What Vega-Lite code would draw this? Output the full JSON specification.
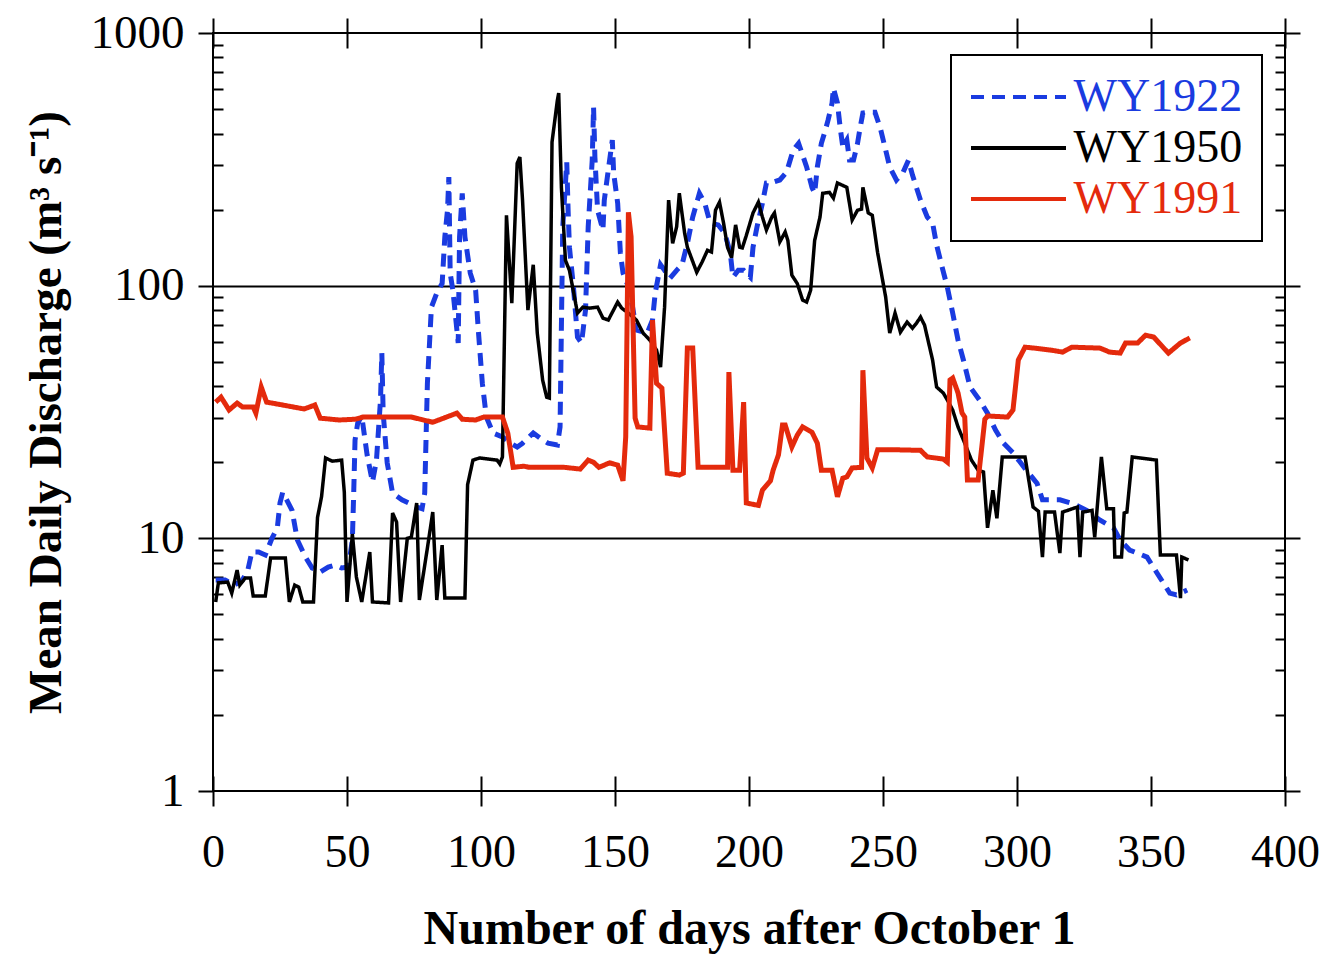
{
  "$schema": "https://vega.github.io/schema/vega-lite/v6.json",
  "width": 1072,
  "height": 758,
  "autosize": "none",
  "padding": {"left": 213, "top": 33, "right": 50, "bottom": 165},
  "background": "white",
  "config": {
    "view": {"stroke": "black", "strokeWidth": 2},
    "font": "Liberation Serif",
    "legend": {
      "orient": "none",
      "legendX": 738,
      "legendY": 22,
      "fillColor": "white",
      "strokeColor": "black",
      "strokeWidth": 2,
      "padding": 19,
      "symbolType": "M-4,0H4",
      "symbolSize": 564,
      "symbolStrokeWidth": 4,
      "symbolOffset": 25.5,
      "labelFont": "Liberation Serif",
      "labelFontSize": 46,
      "labelLimit": 0,
      "labelOffset": 32,
      "rowPadding": 5
    }
  },
  "data": {"values": [
    {"s":"WY1922","d":1,"q":6.84},{"s":"WY1922","d":4.5,"q":6.84},{"s":"WY1922","d":8,"q":6.53},{"s":"WY1922","d":11,"q":6.84},{"s":"WY1922","d":13,"q":7.49},{"s":"WY1922","d":14.5,"q":8.83},{"s":"WY1922","d":17,"q":8.83},{"s":"WY1922","d":19.5,"q":8.59},{"s":"WY1922","d":22,"q":10.0},{"s":"WY1922","d":24,"q":11.0},{"s":"WY1922","d":25,"q":13.8},{"s":"WY1922","d":26,"q":15.2},{"s":"WY1922","d":27.5,"q":14.2},{"s":"WY1922","d":29.5,"q":12.9},{"s":"WY1922","d":31.5,"q":9.84},{"s":"WY1922","d":34.5,"q":8.43},{"s":"WY1922","d":37,"q":7.63},{"s":"WY1922","d":40,"q":7.36},{"s":"WY1922","d":43,"q":7.70},{"s":"WY1922","d":45.5,"q":7.84},{"s":"WY1922","d":48,"q":7.63},{"s":"WY1922","d":50.5,"q":7.70},{"s":"WY1922","d":52,"q":9.84},{"s":"WY1922","d":52.5,"q":15.1},{"s":"WY1922","d":53,"q":24.5},{"s":"WY1922","d":54,"q":28.6},{"s":"WY1922","d":55.5,"q":30.5},{"s":"WY1922","d":57.5,"q":21.4},{"s":"WY1922","d":59.5,"q":16.7},{"s":"WY1922","d":61,"q":20.4},{"s":"WY1922","d":62.5,"q":35.3},{"s":"WY1922","d":63,"q":54.1},{"s":"WY1922","d":63.5,"q":31.3},{"s":"WY1922","d":65,"q":19.9},{"s":"WY1922","d":67,"q":15.1},{"s":"WY1922","d":70.5,"q":14.2},{"s":"WY1922","d":73,"q":13.8},{"s":"WY1922","d":76,"q":13.3},{"s":"WY1922","d":78,"q":13.1},{"s":"WY1922","d":79,"q":15.1},{"s":"WY1922","d":80,"q":41.1},{"s":"WY1922","d":81.5,"q":82.2},{"s":"WY1922","d":83.5,"q":93.5},{"s":"WY1922","d":85.5,"q":102},{"s":"WY1922","d":86.5,"q":156},{"s":"WY1922","d":87.5,"q":199},{"s":"WY1922","d":88,"q":269},{"s":"WY1922","d":88.5,"q":112},{"s":"WY1922","d":89.5,"q":96.0},{"s":"WY1922","d":91.5,"q":59.3},{"s":"WY1922","d":92,"q":156},{"s":"WY1922","d":93,"q":232},{"s":"WY1922","d":94,"q":156},{"s":"WY1922","d":96,"q":112},{"s":"WY1922","d":98,"q":96.0},{"s":"WY1922","d":99,"q":66.7},{"s":"WY1922","d":100.5,"q":41.1},{"s":"WY1922","d":102,"q":30.2},{"s":"WY1922","d":104.5,"q":26.1},{"s":"WY1922","d":108,"q":25.2},{"s":"WY1922","d":111,"q":23.8},{"s":"WY1922","d":113.5,"q":23.0},{"s":"WY1922","d":115.5,"q":23.8},{"s":"WY1922","d":119.5,"q":26.1},{"s":"WY1922","d":123,"q":24.5},{"s":"WY1922","d":125,"q":23.8},{"s":"WY1922","d":128.5,"q":23.4},{"s":"WY1922","d":129.5,"q":27.6},{"s":"WY1922","d":130,"q":68.6},{"s":"WY1922","d":130.5,"q":171},{"s":"WY1922","d":132,"q":308},{"s":"WY1922","d":132.5,"q":199},{"s":"WY1922","d":133,"q":142},{"s":"WY1922","d":134.5,"q":98.7},{"s":"WY1922","d":136,"q":62.6},{"s":"WY1922","d":137.5,"q":59.3},{"s":"WY1922","d":139,"q":80.0},{"s":"WY1922","d":140,"q":171},{"s":"WY1922","d":141.5,"q":314},{"s":"WY1922","d":142,"q":509},{"s":"WY1922","d":142.5,"q":323},{"s":"WY1922","d":143.5,"q":199},{"s":"WY1922","d":145.5,"q":166},{"s":"WY1922","d":146,"q":218},{"s":"WY1922","d":147.5,"q":287},{"s":"WY1922","d":149,"q":377},{"s":"WY1922","d":149.5,"q":279},{"s":"WY1922","d":151,"q":212},{"s":"WY1922","d":152,"q":135},{"s":"WY1922","d":153,"q":112},{"s":"WY1922","d":155.5,"q":96.0},{"s":"WY1922","d":158,"q":66.7},{"s":"WY1922","d":162,"q":64.9},{"s":"WY1922","d":164,"q":73.1},{"s":"WY1922","d":165,"q":93.5},{"s":"WY1922","d":167,"q":121},{"s":"WY1922","d":168.5,"q":115},{"s":"WY1922","d":170.5,"q":107},{"s":"WY1922","d":173,"q":115},{"s":"WY1922","d":175,"q":121},{"s":"WY1922","d":177,"q":147},{"s":"WY1922","d":179,"q":187},{"s":"WY1922","d":181.5,"q":232},{"s":"WY1922","d":183.5,"q":212},{"s":"WY1922","d":185.5,"q":177},{"s":"WY1922","d":188.5,"q":174},{"s":"WY1922","d":191,"q":161},{"s":"WY1922","d":193,"q":135},{"s":"WY1922","d":194,"q":108},{"s":"WY1922","d":196,"q":115},{"s":"WY1922","d":198,"q":115},{"s":"WY1922","d":200.5,"q":108},{"s":"WY1922","d":201.5,"q":142},{"s":"WY1922","d":203,"q":171},{"s":"WY1922","d":205,"q":212},{"s":"WY1922","d":206.5,"q":255},{"s":"WY1922","d":209,"q":257},{"s":"WY1922","d":211.5,"q":262},{"s":"WY1922","d":214,"q":281},{"s":"WY1922","d":216.5,"q":344},{"s":"WY1922","d":218.5,"q":366},{"s":"WY1922","d":220,"q":329},{"s":"WY1922","d":221.5,"q":295},{"s":"WY1922","d":223.5,"q":245},{"s":"WY1922","d":224.5,"q":232},{"s":"WY1922","d":225.5,"q":295},{"s":"WY1922","d":227,"q":366},{"s":"WY1922","d":228.5,"q":413},{"s":"WY1922","d":229.5,"q":452},{"s":"WY1922","d":231,"q":528},{"s":"WY1922","d":231.5,"q":605},{"s":"WY1922","d":233,"q":528},{"s":"WY1922","d":234,"q":424},{"s":"WY1922","d":235,"q":354},{"s":"WY1922","d":236.5,"q":377},{"s":"WY1922","d":237.5,"q":314},{"s":"WY1922","d":239,"q":314},{"s":"WY1922","d":240.5,"q":366},{"s":"WY1922","d":241.5,"q":424},{"s":"WY1922","d":242.5,"q":482},{"s":"WY1922","d":245,"q":486},{"s":"WY1922","d":247,"q":486},{"s":"WY1922","d":249,"q":420},{"s":"WY1922","d":251,"q":344},{"s":"WY1922","d":252.5,"q":295},{"s":"WY1922","d":255,"q":262},{"s":"WY1922","d":257.5,"q":281},{"s":"WY1922","d":259.5,"q":314},{"s":"WY1922","d":261,"q":274},{"s":"WY1922","d":264,"q":218},{"s":"WY1922","d":266.5,"q":187},{"s":"WY1922","d":268.5,"q":177},{"s":"WY1922","d":270,"q":145},{"s":"WY1922","d":272,"q":119},{"s":"WY1922","d":274,"q":98.7},{"s":"WY1922","d":276,"q":77.9},{"s":"WY1922","d":278,"q":60.9},{"s":"WY1922","d":280,"q":50.8},{"s":"WY1922","d":282.5,"q":39.7},{"s":"WY1922","d":286,"q":35.3},{"s":"WY1922","d":289,"q":31.3},{"s":"WY1922","d":292,"q":26.8},{"s":"WY1922","d":295,"q":23.8},{"s":"WY1922","d":298.5,"q":21.8},{"s":"WY1922","d":303.5,"q":18.6},{"s":"WY1922","d":307.5,"q":16.5},{"s":"WY1922","d":309.5,"q":14.2},{"s":"WY1922","d":316,"q":14.2},{"s":"WY1922","d":321,"q":13.7},{"s":"WY1922","d":326,"q":12.9},{"s":"WY1922","d":331,"q":11.8},{"s":"WY1922","d":336,"q":11.0},{"s":"WY1922","d":338.5,"q":9.84},{"s":"WY1922","d":342,"q":8.99},{"s":"WY1922","d":348.5,"q":8.43},{"s":"WY1922","d":352,"q":7.36},{"s":"WY1922","d":357,"q":6.07},{"s":"WY1922","d":359.5,"q":5.97},{"s":"WY1922","d":363.5,"q":6.24},

    {"s":"WY1950","d":1,"q":5.60},{"s":"WY1950","d":2,"q":6.66},{"s":"WY1950","d":5.5,"q":6.71},{"s":"WY1950","d":7,"q":6.07},{"s":"WY1950","d":9,"q":7.49},{"s":"WY1950","d":10,"q":6.53},{"s":"WY1950","d":12,"q":6.96},{"s":"WY1950","d":14,"q":6.96},{"s":"WY1950","d":15,"q":5.91},{"s":"WY1950","d":19.5,"q":5.91},{"s":"WY1950","d":21.5,"q":8.36},{"s":"WY1950","d":27,"q":8.36},{"s":"WY1950","d":28.5,"q":5.60},{"s":"WY1950","d":30.5,"q":6.53},{"s":"WY1950","d":32,"q":6.41},{"s":"WY1950","d":33.5,"q":5.60},{"s":"WY1950","d":37.5,"q":5.60},{"s":"WY1950","d":39,"q":12.1},{"s":"WY1950","d":40.5,"q":14.6},{"s":"WY1950","d":42,"q":20.8},{"s":"WY1950","d":44.5,"q":20.2},{"s":"WY1950","d":48,"q":20.4},{"s":"WY1950","d":49,"q":15.2},{"s":"WY1950","d":50,"q":5.60},{"s":"WY1950","d":52,"q":10.4},{"s":"WY1950","d":53.5,"q":7.03},{"s":"WY1950","d":55.5,"q":5.60},{"s":"WY1950","d":58.5,"q":8.83},{"s":"WY1950","d":59.5,"q":5.60},{"s":"WY1950","d":65.5,"q":5.55},{"s":"WY1950","d":67,"q":12.6},{"s":"WY1950","d":68.5,"q":11.6},{"s":"WY1950","d":70,"q":5.60},{"s":"WY1950","d":72.5,"q":10.0},{"s":"WY1950","d":74,"q":10.1},{"s":"WY1950","d":76,"q":13.8},{"s":"WY1950","d":77,"q":5.70},{"s":"WY1950","d":80,"q":9.16},{"s":"WY1950","d":82,"q":12.7},{"s":"WY1950","d":83.5,"q":5.70},{"s":"WY1950","d":85.5,"q":9.40},{"s":"WY1950","d":86.5,"q":5.80},{"s":"WY1950","d":94,"q":5.80},{"s":"WY1950","d":95,"q":16.3},{"s":"WY1950","d":97,"q":20.4},{"s":"WY1950","d":99.5,"q":20.8},{"s":"WY1950","d":106,"q":20.4},{"s":"WY1950","d":107,"q":19.7},{"s":"WY1950","d":108,"q":21.0},{"s":"WY1950","d":109.5,"q":190},{"s":"WY1950","d":111.5,"q":85.3},{"s":"WY1950","d":113.5,"q":305},{"s":"WY1950","d":114.5,"q":323},{"s":"WY1950","d":115.5,"q":218},{"s":"WY1950","d":117.5,"q":80.0},{"s":"WY1950","d":119.5,"q":121},{"s":"WY1950","d":121,"q":64.9},{"s":"WY1950","d":123,"q":42.3},{"s":"WY1950","d":124.5,"q":36.2},{"s":"WY1950","d":125.5,"q":35.9},{"s":"WY1950","d":126.5,"q":370},{"s":"WY1950","d":128.5,"q":542},{"s":"WY1950","d":129,"q":578},{"s":"WY1950","d":130,"q":245},{"s":"WY1950","d":131.5,"q":126},{"s":"WY1950","d":133,"q":115},{"s":"WY1950","d":136,"q":77.9},{"s":"WY1950","d":138,"q":82.2},{"s":"WY1950","d":140.5,"q":81.5},{"s":"WY1950","d":143.5,"q":82.2},{"s":"WY1950","d":145.5,"q":74.4},{"s":"WY1950","d":147.5,"q":73.1},{"s":"WY1950","d":151,"q":86.1},{"s":"WY1950","d":152.5,"q":81.5},{"s":"WY1950","d":155,"q":77.9},{"s":"WY1950","d":158,"q":73.1},{"s":"WY1950","d":160.5,"q":64.9},{"s":"WY1950","d":163,"q":60.9},{"s":"WY1950","d":165.5,"q":55.6},{"s":"WY1950","d":167,"q":47.6},{"s":"WY1950","d":168.5,"q":82.2},{"s":"WY1950","d":170,"q":218},{"s":"WY1950","d":171.5,"q":147},{"s":"WY1950","d":173,"q":171},{"s":"WY1950","d":174,"q":232},{"s":"WY1950","d":176,"q":161},{"s":"WY1950","d":177,"q":142},{"s":"WY1950","d":180.5,"q":113},{"s":"WY1950","d":182.5,"q":124},{"s":"WY1950","d":184.5,"q":138},{"s":"WY1950","d":186,"q":136},{"s":"WY1950","d":187.5,"q":199},{"s":"WY1950","d":189,"q":214},{"s":"WY1950","d":190.5,"q":177},{"s":"WY1950","d":192,"q":142},{"s":"WY1950","d":193.5,"q":129},{"s":"WY1950","d":195,"q":174},{"s":"WY1950","d":196.5,"q":142},{"s":"WY1950","d":197.5,"q":141},{"s":"WY1950","d":199,"q":158},{"s":"WY1950","d":201.5,"q":194},{"s":"WY1950","d":203.5,"q":214},{"s":"WY1950","d":205,"q":187},{"s":"WY1950","d":206.5,"q":166},{"s":"WY1950","d":208.5,"q":187},{"s":"WY1950","d":209.5,"q":194},{"s":"WY1950","d":211.5,"q":149},{"s":"WY1950","d":213.5,"q":163},{"s":"WY1950","d":214.5,"q":151},{"s":"WY1950","d":216,"q":110},{"s":"WY1950","d":218,"q":102},{"s":"WY1950","d":220,"q":87.7},{"s":"WY1950","d":221.5,"q":86.1},{"s":"WY1950","d":223,"q":96.0},{"s":"WY1950","d":224.5,"q":151},{"s":"WY1950","d":226.5,"q":187},{"s":"WY1950","d":227.5,"q":232},{"s":"WY1950","d":230,"q":234},{"s":"WY1950","d":231.5,"q":222},{"s":"WY1950","d":233,"q":255},{"s":"WY1950","d":236.5,"q":245},{"s":"WY1950","d":238.5,"q":182},{"s":"WY1950","d":240.5,"q":199},{"s":"WY1950","d":242,"q":201},{"s":"WY1950","d":242.5,"q":245},{"s":"WY1950","d":244.5,"q":194},{"s":"WY1950","d":246,"q":190},{"s":"WY1950","d":248,"q":135},{"s":"WY1950","d":251,"q":90.1},{"s":"WY1950","d":252.5,"q":64.9},{"s":"WY1950","d":254.5,"q":77.9},{"s":"WY1950","d":256.5,"q":65.5},{"s":"WY1950","d":259,"q":71.8},{"s":"WY1950","d":261,"q":67.9},{"s":"WY1950","d":262.5,"q":71.1},{"s":"WY1950","d":264,"q":75.1},{"s":"WY1950","d":265.5,"q":69.8},{"s":"WY1950","d":268.5,"q":50.8},{"s":"WY1950","d":270,"q":39.7},{"s":"WY1950","d":272.5,"q":37.6},{"s":"WY1950","d":274,"q":35.3},{"s":"WY1950","d":276,"q":32.2},{"s":"WY1950","d":278,"q":27.6},{"s":"WY1950","d":280.5,"q":23.8},{"s":"WY1950","d":283,"q":20.4},{"s":"WY1950","d":285.5,"q":18.6},{"s":"WY1950","d":287.5,"q":18.3},{"s":"WY1950","d":289,"q":11.0},{"s":"WY1950","d":291,"q":15.5},{"s":"WY1950","d":292.5,"q":12.0},{"s":"WY1950","d":294.5,"q":21.0},{"s":"WY1950","d":303,"q":21.0},{"s":"WY1950","d":306,"q":13.3},{"s":"WY1950","d":308,"q":12.8},{"s":"WY1950","d":309.5,"q":8.43},{"s":"WY1950","d":310.5,"q":12.7},{"s":"WY1950","d":314,"q":12.7},{"s":"WY1950","d":316,"q":8.74},{"s":"WY1950","d":317,"q":12.7},{"s":"WY1950","d":322.5,"q":13.3},{"s":"WY1950","d":323.5,"q":8.43},{"s":"WY1950","d":324.5,"q":12.7},{"s":"WY1950","d":328,"q":12.9},{"s":"WY1950","d":329,"q":10.1},{"s":"WY1950","d":331.5,"q":21.0},{"s":"WY1950","d":333.5,"q":13.1},{"s":"WY1950","d":336,"q":13.1},{"s":"WY1950","d":336.5,"q":8.43},{"s":"WY1950","d":339,"q":8.43},{"s":"WY1950","d":340,"q":12.6},{"s":"WY1950","d":341,"q":12.7},{"s":"WY1950","d":343,"q":21.0},{"s":"WY1950","d":352,"q":20.4},{"s":"WY1950","d":353.5,"q":8.59},{"s":"WY1950","d":359.5,"q":8.59},{"s":"WY1950","d":361,"q":5.80},{"s":"WY1950","d":361.5,"q":8.43},{"s":"WY1950","d":364,"q":8.21},

    {"s":"WY1991","d":1,"q":34.6},{"s":"WY1991","d":3,"q":36.2},{"s":"WY1991","d":6,"q":32.2},{"s":"WY1991","d":9,"q":34.3},{"s":"WY1991","d":11,"q":33.1},{"s":"WY1991","d":15,"q":33.1},{"s":"WY1991","d":16,"q":31.3},{"s":"WY1991","d":18,"q":39.7},{"s":"WY1991","d":20,"q":34.6},{"s":"WY1991","d":26,"q":33.7},{"s":"WY1991","d":30,"q":33.1},{"s":"WY1991","d":34,"q":32.5},{"s":"WY1991","d":38,"q":33.7},{"s":"WY1991","d":40,"q":29.9},{"s":"WY1991","d":47,"q":29.4},{"s":"WY1991","d":53,"q":29.6},{"s":"WY1991","d":56,"q":30.2},{"s":"WY1991","d":74,"q":30.2},{"s":"WY1991","d":82,"q":28.8},{"s":"WY1991","d":91,"q":31.3},{"s":"WY1991","d":93,"q":29.6},{"s":"WY1991","d":98,"q":29.4},{"s":"WY1991","d":101,"q":30.2},{"s":"WY1991","d":108,"q":30.2},{"s":"WY1991","d":110,"q":26.1},{"s":"WY1991","d":112,"q":19.1},{"s":"WY1991","d":116,"q":19.3},{"s":"WY1991","d":118,"q":19.1},{"s":"WY1991","d":131,"q":19.1},{"s":"WY1991","d":137,"q":18.8},{"s":"WY1991","d":140,"q":20.4},{"s":"WY1991","d":142,"q":20.0},{"s":"WY1991","d":144,"q":19.1},{"s":"WY1991","d":148,"q":19.9},{"s":"WY1991","d":151,"q":19.5},{"s":"WY1991","d":153,"q":16.9},{"s":"WY1991","d":154,"q":25.2},{"s":"WY1991","d":155,"q":195},{"s":"WY1991","d":156,"q":156},{"s":"WY1991","d":157.5,"q":29.9},{"s":"WY1991","d":158.5,"q":27.6},{"s":"WY1991","d":163,"q":27.3},{"s":"WY1991","d":164,"q":73.1},{"s":"WY1991","d":165.5,"q":41.1},{"s":"WY1991","d":167.5,"q":39.3},{"s":"WY1991","d":169.5,"q":18.1},{"s":"WY1991","d":174,"q":17.8},{"s":"WY1991","d":175.5,"q":18.1},{"s":"WY1991","d":177,"q":56.6},{"s":"WY1991","d":179,"q":56.6},{"s":"WY1991","d":181,"q":19.1},{"s":"WY1991","d":192,"q":19.1},{"s":"WY1991","d":192.5,"q":45.5},{"s":"WY1991","d":194,"q":18.6},{"s":"WY1991","d":196.5,"q":18.6},{"s":"WY1991","d":198,"q":34.6},{"s":"WY1991","d":199,"q":13.8},{"s":"WY1991","d":203.5,"q":13.5},{"s":"WY1991","d":205,"q":15.5},{"s":"WY1991","d":208,"q":16.9},{"s":"WY1991","d":209,"q":18.6},{"s":"WY1991","d":211,"q":21.4},{"s":"WY1991","d":212.5,"q":28.1},{"s":"WY1991","d":213.5,"q":28.1},{"s":"WY1991","d":216,"q":23.0},{"s":"WY1991","d":218,"q":25.6},{"s":"WY1991","d":220,"q":27.6},{"s":"WY1991","d":223.5,"q":26.3},{"s":"WY1991","d":225.5,"q":23.8},{"s":"WY1991","d":227,"q":18.6},{"s":"WY1991","d":231,"q":18.6},{"s":"WY1991","d":233,"q":14.6},{"s":"WY1991","d":235,"q":17.3},{"s":"WY1991","d":236.5,"q":17.5},{"s":"WY1991","d":238.5,"q":19.0},{"s":"WY1991","d":242,"q":19.1},{"s":"WY1991","d":242.5,"q":46.3},{"s":"WY1991","d":244,"q":20.8},{"s":"WY1991","d":246,"q":19.0},{"s":"WY1991","d":248,"q":22.4},{"s":"WY1991","d":255.5,"q":22.4},{"s":"WY1991","d":264,"q":22.3},{"s":"WY1991","d":266.5,"q":21.0},{"s":"WY1991","d":272.5,"q":20.6},{"s":"WY1991","d":274,"q":20.0},{"s":"WY1991","d":275,"q":42.3},{"s":"WY1991","d":276,"q":43.1},{"s":"WY1991","d":278,"q":37.6},{"s":"WY1991","d":279.5,"q":31.3},{"s":"WY1991","d":280.5,"q":30.2},{"s":"WY1991","d":281.5,"q":17.0},{"s":"WY1991","d":285.5,"q":17.0},{"s":"WY1991","d":288,"q":29.6},{"s":"WY1991","d":289,"q":30.5},{"s":"WY1991","d":296.5,"q":30.2},{"s":"WY1991","d":298.5,"q":32.2},{"s":"WY1991","d":300.5,"q":50.8},{"s":"WY1991","d":303,"q":57.1},{"s":"WY1991","d":306.5,"q":56.6},{"s":"WY1991","d":312.5,"q":55.6},{"s":"WY1991","d":317,"q":54.6},{"s":"WY1991","d":320.5,"q":57.1},{"s":"WY1991","d":331,"q":56.6},{"s":"WY1991","d":334.5,"q":54.6},{"s":"WY1991","d":338.5,"q":54.1},{"s":"WY1991","d":340.5,"q":59.3},{"s":"WY1991","d":345,"q":59.3},{"s":"WY1991","d":348,"q":63.7},{"s":"WY1991","d":351,"q":62.6},{"s":"WY1991","d":356.5,"q":54.1},{"s":"WY1991","d":361,"q":59.3},{"s":"WY1991","d":364.5,"q":62.1}
  ]},
  "layer": [
    {
      "mark": {"type": "line", "strokeCap": "butt", "strokeJoin": "miter"},
      "encoding": {
        "x": {
          "field": "d", "type": "quantitative",
          "scale": {"domain": [0, 400], "nice": false, "zero": false},
          "axis": {
            "orient": "bottom",
            "values": [0, 50, 100, 150, 200, 250, 300, 350, 400],
            "offset": -15,
            "domain": false,
            "grid": false,
            "tickSize": 30,
            "tickWidth": 2,
            "tickColor": "black",
            "labelFont": "Liberation Serif",
            "labelFontSize": 46,
            "labelColor": "black",
            "labelPadding": 24,
            "labelFlush": false,
            "labelOverlap": false,
            "title": "Number of days after October 1",
            "titleFont": "Liberation Serif",
            "titleFontSize": 48,
            "titleFontWeight": "bold",
            "titleColor": "black",
            "titlePadding": 30
          }
        },
        "y": {
          "field": "q", "type": "quantitative",
          "scale": {"type": "log", "domain": [1, 1000], "nice": false},
          "axis": {
            "orient": "left",
            "values": [1,2,3,4,5,6,7,8,9,10,20,30,40,50,60,70,80,90,100,200,300,400,500,600,700,800,900,1000],
            "domain": false,
            "grid": true,
            "gridColor": "black",
            "gridWidth": 2,
            "gridOpacity": {"condition": {"test": "datum.value == 10 || datum.value == 100", "value": 1}, "value": 0},
            "tickColor": "black",
            "tickWidth": 2,
            "tickSize": {"condition": {"test": "datum.value == 1 || datum.value == 10 || datum.value == 100 || datum.value == 1000", "value": 15}, "value": -10},
            "format": "d",
            "labelExpr": "(datum.value == 1 || datum.value == 10 || datum.value == 100 || datum.value == 1000) ? datum.label : ''",
            "labelFont": "Liberation Serif",
            "labelFontSize": 47,
            "labelColor": "black",
            "labelPadding": 14,
            "labelOverlap": false,
            "labelFlush": false,
            "title": "Mean Daily Discharge (m³ s⁻¹)",
            "titleFont": "Liberation Serif",
            "titleFontSize": 47,
            "titleFontWeight": "bold",
            "titleColor": "black",
            "titlePadding": 20
          }
        },
        "color": {
          "field": "s", "type": "nominal", "title": null,
          "scale": {"domain": ["WY1922", "WY1950", "WY1991"], "range": ["#1a3be0", "#000000", "#e42a0c"]},
          "legend": {
            "orient": "none", "legendX": 738, "legendY": 22,
            "labelColor": {"expr": "datum.value == 'WY1922' ? '#1a3be0' : (datum.value == 'WY1991' ? '#e42a0c' : '#000000')"}
          }
        },
        "strokeDash": {
          "field": "s", "type": "nominal", "title": null,
          "scale": {"domain": ["WY1922", "WY1950", "WY1991"], "range": [[13, 8], [1, 0], [1, 0]]}
        },
        "strokeWidth": {
          "condition": {"test": "datum.s == 'WY1950'", "value": 3.5},
          "value": 5
        }
      }
    },
    {
      "mark": {"type": "point", "opacity": 0},
      "encoding": {
        "x": {
          "field": "d", "type": "quantitative",
          "axis": {
            "orient": "top",
            "values": [0, 50, 100, 150, 200, 250, 300, 350, 400],
            "offset": -15,
            "domain": false,
            "grid": false,
            "tickSize": 30,
            "tickWidth": 2,
            "tickColor": "black",
            "labels": false,
            "title": null
          }
        },
        "y": {
          "field": "q", "type": "quantitative",
          "axis": {
            "orient": "right",
            "values": [1,2,3,4,5,6,7,8,9,10,20,30,40,50,60,70,80,90,100,200,300,400,500,600,700,800,900,1000],
            "domain": false,
            "grid": false,
            "tickColor": "black",
            "tickWidth": 2,
            "tickSize": {"condition": {"test": "datum.value == 1 || datum.value == 10 || datum.value == 100 || datum.value == 1000", "value": 15}, "value": -10},
            "labels": false,
            "title": null
          }
        }
      }
    }
  ],
  "resolve": {"axis": {"x": "independent", "y": "independent"}}
}
